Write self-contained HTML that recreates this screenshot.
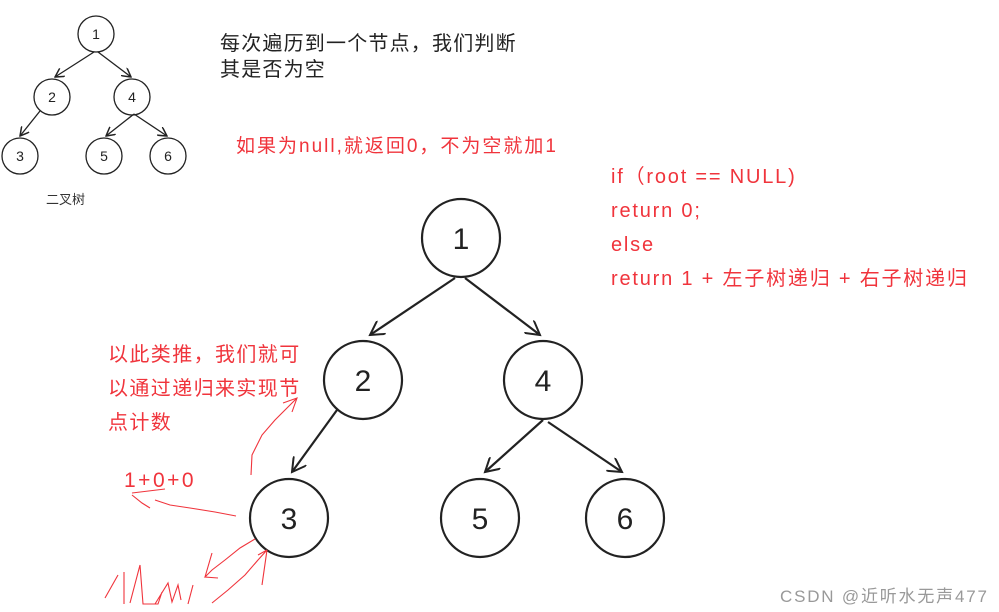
<!DOCTYPE html><html><head><style>body{margin:0;width:999px;height:612px;background:#fff;overflow:hidden;position:relative;font-family:"Liberation Sans","Noto Sans CJK SC",sans-serif}
.t{position:absolute;white-space:nowrap}
.r{color:#f0343c}
</style></head><body>
<svg width="999" height="612" style="position:absolute;left:0;top:0">
<defs><marker id="a" markerWidth="10" markerHeight="10" refX="9" refY="5" orient="auto" markerUnits="userSpaceOnUse"><path d="M0,0 L9,5 L0,10" fill="none" stroke="#222" stroke-width="1.5"/></marker>
<marker id="b" markerWidth="16" markerHeight="16" refX="14" refY="8" orient="auto" markerUnits="userSpaceOnUse"><path d="M0,0 L14,8 L0,16" fill="none" stroke="#222" stroke-width="2"/></marker></defs>
<g fill="none" stroke="#222" stroke-width="1.3">
<circle cx="96" cy="34" r="18"/><circle cx="52" cy="97" r="18"/><circle cx="132" cy="97" r="18"/>
<circle cx="20" cy="156" r="18"/><circle cx="104" cy="156" r="18"/><circle cx="168" cy="156" r="18"/>
<line x1="94" y1="52" x2="55" y2="77" marker-end="url(#a)"/><line x1="98" y1="52" x2="131" y2="77" marker-end="url(#a)"/>
<line x1="40" y1="111" x2="20" y2="136" marker-end="url(#a)"/><line x1="134" y1="114" x2="106" y2="136" marker-end="url(#a)"/><line x1="134" y1="114" x2="167" y2="136" marker-end="url(#a)"/>
</g>
<g fill="none" stroke="#222" stroke-width="2.2">
<circle cx="461" cy="238" r="39"/><circle cx="363" cy="380" r="39"/><circle cx="543" cy="380" r="39"/>
<circle cx="289" cy="518" r="39"/><circle cx="480" cy="518" r="39"/><circle cx="625" cy="518" r="39"/>
<line x1="455" y1="278" x2="370" y2="335" marker-end="url(#b)"/><line x1="465" y1="278" x2="540" y2="335" marker-end="url(#b)"/>
<line x1="337" y1="410" x2="292" y2="472" marker-end="url(#b)"/><line x1="543" y1="420" x2="485" y2="472" marker-end="url(#b)"/><line x1="548" y1="422" x2="622" y2="472" marker-end="url(#b)"/>
</g>
<g fill="none" stroke="#f0343c" stroke-width="1.1">
<path d="M251,475 L252,455 L262,435 L275,420 L290,405 L297,398 M283,403 L297,398 L292,412"/>
<path d="M236,516 L215,512 L190,508 L170,505 L155,500 M132,493 L165,489 M132,495 L142,503 L150,508"/>
<path d="M255,539 L240,548 L225,560 L212,570 L205,577 L218,578 M205,577 L212,553"/>
<path d="M212,603 L228,590 L245,575 L258,560 L267,550 L258,555 M267,550 L262,585"/>
<path d="M105,598 L118,575 M124,604 L124,572 M130,603 L140,565 L143,604 L158,604 L162,592 M155,604 L168,583 L172,602 L178,585 L181,600 M188,604 L193,585"/>
</g>
<g font-family="Liberation Sans,sans-serif" fill="#222" text-anchor="middle">
<g font-size="14"><text x="96" y="39">1</text><text x="52" y="102">2</text><text x="132" y="102">4</text><text x="20" y="161">3</text><text x="104" y="161">5</text><text x="168" y="161">6</text></g>
<g font-size="30"><text x="461" y="249">1</text><text x="363" y="391">2</text><text x="543" y="391">4</text><text x="289" y="529">3</text><text x="480" y="529">5</text><text x="625" y="529">6</text></g>
</g>
</svg>
<div class="t" style="left:46px;top:189px;font-size:13px;color:#333">二叉树</div>
<div class="t" style="left:220px;top:31px;font-size:20px;letter-spacing:1.2px;line-height:26px;color:#222">每次遍历到一个节点，我们判断<br>其是否为空</div>
<div class="t r" style="left:236px;top:131px;font-size:19px;letter-spacing:2px">如果为null,就返回0，不为空就加1</div>
<div class="t r" style="left:611px;top:160px;font-size:20px;letter-spacing:1.8px;line-height:34px">if（root == NULL)<br>return 0;<br>else<br>return 1 + 左子树递归 + 右子树递归</div>
<div class="t r" style="left:108px;top:338px;font-size:20px;letter-spacing:1.4px;line-height:34px">以此类推，我们就可<br>以通过递归来实现节<br>点计数</div>
<div class="t r" style="left:124px;top:469px;font-size:21px;letter-spacing:2.5px">1+0+0</div>
<div class="t" style="left:780px;top:582px;font-size:17px;letter-spacing:1.8px;color:#999">CSDN @近听水无声477</div>
</body></html>
